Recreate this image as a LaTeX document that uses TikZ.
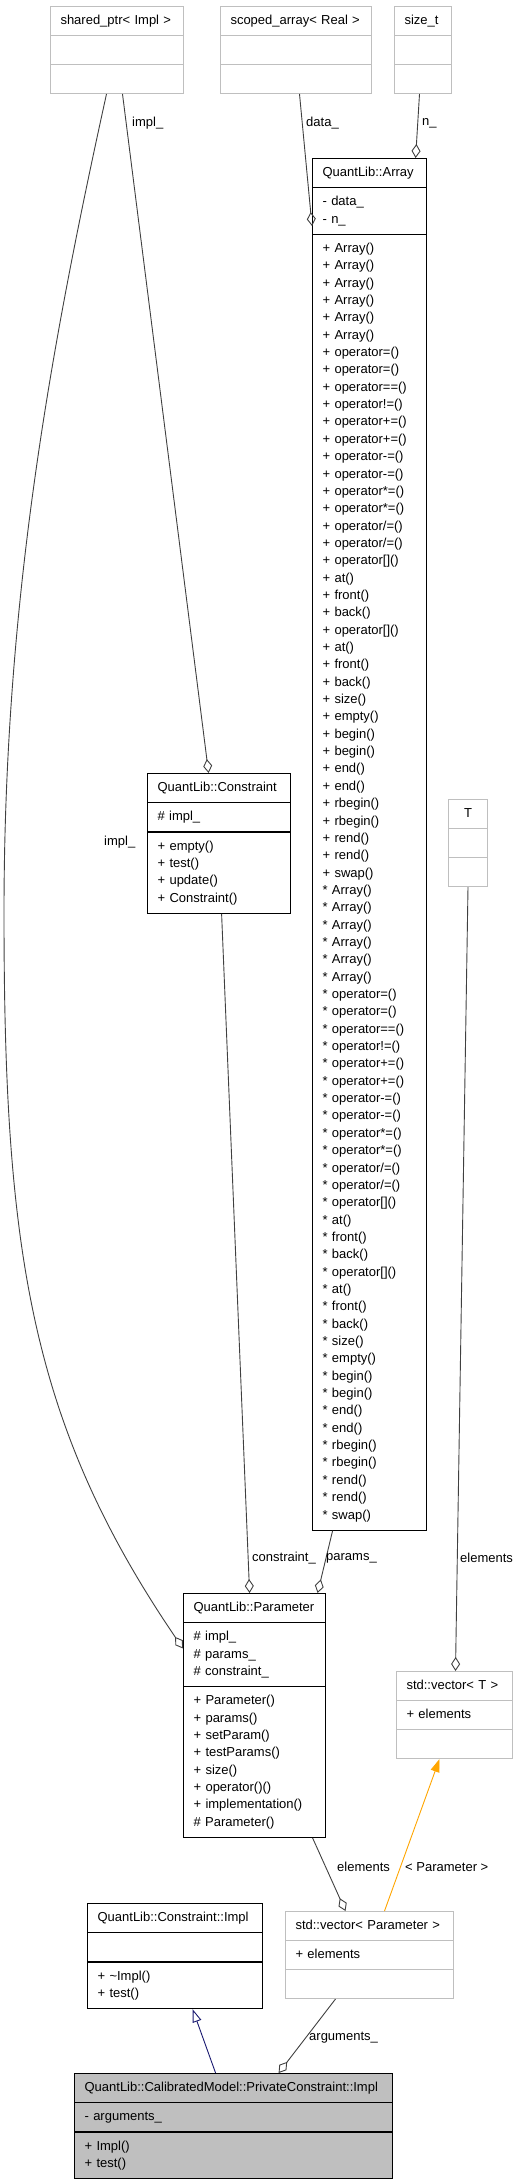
\documentclass[tikz,border=0pt]{standalone}
\usepackage{fontspec}
\setmainfont{Liberation Sans}
\usetikzlibrary{arrows.meta, shapes.multipart}

\definecolor{edgegray}{HTML}{404040}
\definecolor{boxgray}{HTML}{BFBFBF}
\definecolor{inheritblue}{HTML}{191970}
\definecolor{tmplorange}{HTML}{FFA500}

\newcommand{\rowstrut}{\rule[-5pt]{0pt}{17pt}}
\newcommand{\rows}[1]{\rowstrut#1\rowstrut}
\newcommand{\arrayops}[1]{%
{#1} Array()\\{#1} Array()\\{#1} Array()\\{#1} Array()\\{#1} Array()\\{#1} Array()\\
{#1} operator=()\\{#1} operator=()\\{#1} operator==()\\{#1} operator!=()\\
{#1} operator+=()\\{#1} operator+=()\\{#1} operator-=()\\{#1} operator-=()\\
{#1} operator*=()\\{#1} operator*=()\\{#1} operator/=()\\{#1} operator/=()\\
{#1} operator[]()\\{#1} at()\\{#1} front()\\{#1} back()\\
{#1} operator[]()\\{#1} at()\\{#1} front()\\{#1} back()\\
{#1} size()\\{#1} empty()\\{#1} begin()\\{#1} begin()\\{#1} end()\\{#1} end()\\
{#1} rbegin()\\{#1} rbegin()\\{#1} rend()\\{#1} rend()\\{#1} swap()}

\begin{document}
\begin{tikzpicture} [x = 1pt, y = -1pt,
    cls/.style = {rectangle split, rectangle split parts = 3, anchor = north west, align = left,
        inner xsep = 10pt, inner ysep = 5.5pt, font = \fontsize{13}{17.35}\selectfont,
        execute at begin node = {\setlength{\baselineskip}{17.35pt}}},
    docbox/.style = {draw = black, line width = 1.2pt},
    extbox/.style = {draw = boxgray, line width = 1pt},
    mainbox/.style = {docbox, fill = boxgray},
    lbl/.style = {anchor = west, inner sep = 0pt, font = \fontsize{13}{16}\selectfont},
    aggr/.style = {edgegray, line width = 0.9pt, -{Diamond[open, length = 14pt, width = 9pt]}},
    inherit/.style = {inheritblue, line width = 0.9pt, -{Triangle[open, length = 13pt, width = 9pt]}},
    tmpl/.style = {tmplorange, line width = 0.9pt, -{Triangle[length = 13pt, width = 9pt]}}]
    \useasboundingbox (0, 0) rectangle (518, 2181);

    \node (sp) [cls, extbox, text width = 113pt] at (50, 6) {\rows{shared\_ptr< Impl >}
        \nodepart{two} \rows{} \nodepart{three} \rows{}};
    \node (sa) [cls, extbox, text width = 131pt] at (220, 6) {\rows{scoped\_array< Real >}
        \nodepart{two} \rows{} \nodepart{three} \rows{}};
    \node (sz) [cls, extbox, text width = 37pt] at (394, 6) {\rows{size\_t}
        \nodepart{two} \rows{} \nodepart{three} \rows{}};
    \node (arr) [cls, docbox, text width = 94pt] at (312, 158) {\rows{QuantLib::Array}
        \nodepart{two} \rows{- data\_\\- n\_}
        \nodepart{three} \rows{\arrayops{+}\\\arrayops{*}}};
    \node (con) [cls, docbox, text width = 123pt] at (147, 773) {\rows{QuantLib::Constraint}
        \nodepart{two} \rows{\# impl\_}
        \nodepart{three} \rows{+ empty()\\+ test()\\+ update()\\+ Constraint()}};
    \node (T) [cls, extbox, text width = 19pt, align = center] at (448, 799) {\rows{T}
        \nodepart{two} \rows{} \nodepart{three} \rows{}};
    \node (par) [cls, docbox, text width = 122pt] at (183, 1593) {\rows{QuantLib::Parameter}
        \nodepart{two} \rows{\# impl\_\\\# params\_\\\# constraint\_}
        \nodepart{three} \rows{+ Parameter()\\+ params()\\+ setParam()\\+ testParams()\\+ size()\\+ operator()()\\+ implementation()\\\# Parameter()}};
    \node (vT) [cls, extbox, text width = 96pt] at (396, 1671) {\rows{std::vector< T >}
        \nodepart{two} \rows{+ elements}
        \nodepart{three} \rows{}};
    \node (ci) [cls, docbox, text width = 155pt] at (87, 1903) {\rows{QuantLib::Constraint::Impl}
        \nodepart{two} \rows{}
        \nodepart{three} \rows{+ \textasciitilde Impl()\\+ test()}};
    \node (vP) [cls, extbox, text width = 148pt] at (285, 1911) {\rows{std::vector< Parameter >}
        \nodepart{two} \rows{+ elements}
        \nodepart{three} \rows{}};
    \node (pci) [cls, mainbox, text width = 298pt] at (74, 2073) {\rows{QuantLib::CalibratedModel::PrivateConstraint::Impl}
        \nodepart{two} \rows{- arguments\_}
        \nodepart{three} \rows{+ Impl()\\+ test()}};

    \coordinate (implbend) at (4, 913);

    \path [aggr] ([xshift = 5.5pt]sp.south) edge ([xshift = -10.5pt]con.north);
    \draw [aggr] ([xshift = -10.5pt]sp.south) .. controls +(-55, 250) and +(0, -313) .. (implbend)
        .. controls +(0, 337) and +(-153, -225) .. ([yshift = 67pt]par.west);
    \path [aggr] ([xshift = 3.5pt]sa.south) edge ([yshift = -68pt]arr.north west);
    \path [aggr] ([xshift = -3.5pt]sz.south) edge ([xshift = 46pt]arr.north);
    \path [aggr] ([xshift = 2.5pt]con.south) edge ([xshift = -5pt]par.north);
    \path [aggr] ([xshift = -37pt]arr.south) edge ([xshift = 63pt]par.north);
    \path [aggr] (T.south) edge ([xshift = 1pt]vT.north);
    \path [aggr] ([xshift = 58pt]par.south) edge ([xshift = -24pt]vP.north);
    \path [aggr] ([xshift = -34pt]vP.south) edge ([xshift = 45pt]pci.north);
    \path [tmpl] ([xshift = 15pt]vP.north) edge ([xshift = -15pt]vT.south);
    \path [inherit] ([xshift = -18pt]pci.north) edge ([xshift = 17.5pt]ci.south);

    \node (limpla) [lbl] at (132, 123) {impl\_};
    \node (limplb) [lbl] at (104, 842) {impl\_};
    \node (ldata) [lbl] at (306, 123) {data\_};
    \node (ln) [lbl] at (422, 123) {n\_};
    \node (lconstraint) [lbl] at (252, 1558) {constraint\_};
    \node (lparams) [lbl] at (326, 1558) {params\_};
    \node (lelemt) [lbl] at (460, 1558) {elements};
    \node (lelemp) [lbl] at (337, 1867) {elements};
    \node (lparam) [lbl] at (405, 1867) {< Parameter >};
    \node (largs) [lbl] at (309, 2038) {arguments\_};
\end{tikzpicture}
\end{document}
